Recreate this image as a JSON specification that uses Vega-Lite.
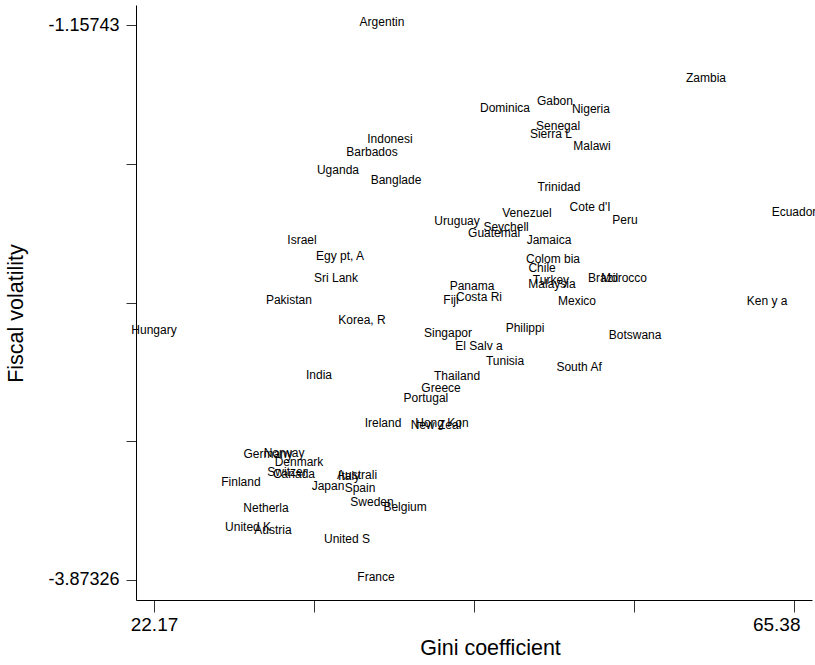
{
  "$schema": "https://vega.github.io/schema/vega-lite/v6.json",
  "width": 676,
  "height": 595,
  "autosize": {"type": "none"},
  "padding": {"left": 136, "top": 5, "right": 3, "bottom": 65},
  "background": "white",
  "config": {"view": {"stroke": null}},
  "data": {"values": [
    {"country": "Argentin", "gini": 37.56, "vol": -1.15743},
    {"country": "Zambia", "gini": 59.44, "vol": -1.431},
    {"country": "Dominica", "gini": 45.87, "vol": -1.578},
    {"country": "Gabon", "gini": 49.24, "vol": -1.544},
    {"country": "Nigeria", "gini": 51.67, "vol": -1.583},
    {"country": "Senegal", "gini": 49.45, "vol": -1.666},
    {"country": "Sierra L", "gini": 48.97, "vol": -1.706},
    {"country": "Malawi", "gini": 51.74, "vol": -1.764},
    {"country": "Indonesi", "gini": 38.10, "vol": -1.730},
    {"country": "Barbados", "gini": 36.89, "vol": -1.794},
    {"country": "Uganda", "gini": 34.59, "vol": -1.882},
    {"country": "Banglade", "gini": 38.51, "vol": -1.931},
    {"country": "Trinidad", "gini": 49.51, "vol": -1.965},
    {"country": "Cote d'I", "gini": 51.61, "vol": -2.063},
    {"country": "Peru", "gini": 53.97, "vol": -2.126},
    {"country": "Ecuador", "gini": 65.38, "vol": -2.087},
    {"country": "Venezuel", "gini": 47.35, "vol": -2.092},
    {"country": "Uruguay", "gini": 42.63, "vol": -2.131},
    {"country": "Seychell", "gini": 45.94, "vol": -2.161},
    {"country": "Guatemal", "gini": 45.13, "vol": -2.190},
    {"country": "Jamaica", "gini": 48.84, "vol": -2.224},
    {"country": "Israel", "gini": 32.16, "vol": -2.224},
    {"country": "Egy pt, A", "gini": 34.73, "vol": -2.302},
    {"country": "Colom bia", "gini": 49.11, "vol": -2.317},
    {"country": "Chile", "gini": 48.37, "vol": -2.361},
    {"country": "Sri Lank", "gini": 34.46, "vol": -2.410},
    {"country": "Turkey", "gini": 48.97, "vol": -2.420},
    {"country": "Malaysia", "gini": 49.04, "vol": -2.440},
    {"country": "Brazil", "gini": 52.49, "vol": -2.410},
    {"country": "Morocco", "gini": 53.90, "vol": -2.410},
    {"country": "Panama", "gini": 43.64, "vol": -2.449},
    {"country": "Costa Ri", "gini": 44.11, "vol": -2.503},
    {"country": "Fiji", "gini": 42.22, "vol": -2.518},
    {"country": "Mexico", "gini": 50.73, "vol": -2.523},
    {"country": "Ken y a", "gini": 63.56, "vol": -2.523},
    {"country": "Pakistan", "gini": 31.28, "vol": -2.518},
    {"country": "Korea, R", "gini": 36.21, "vol": -2.616},
    {"country": "Hungary", "gini": 22.17, "vol": -2.665},
    {"country": "Singapor", "gini": 42.02, "vol": -2.679},
    {"country": "Philippi", "gini": 47.22, "vol": -2.655},
    {"country": "Botswana", "gini": 54.65, "vol": -2.689},
    {"country": "El Salv a", "gini": 44.11, "vol": -2.743},
    {"country": "Tunisia", "gini": 45.87, "vol": -2.816},
    {"country": "South Af", "gini": 50.87, "vol": -2.846},
    {"country": "India", "gini": 33.31, "vol": -2.885},
    {"country": "Thailand", "gini": 42.63, "vol": -2.890},
    {"country": "Greece", "gini": 41.55, "vol": -2.948},
    {"country": "Portugal", "gini": 40.53, "vol": -2.997},
    {"country": "Ireland", "gini": 37.63, "vol": -3.120},
    {"country": "Hong Kon", "gini": 41.61, "vol": -3.120},
    {"country": "New Zeal", "gini": 41.21, "vol": -3.130},
    {"country": "Norway", "gini": 30.95, "vol": -3.266},
    {"country": "Germany", "gini": 29.87, "vol": -3.271},
    {"country": "Denmark", "gini": 31.96, "vol": -3.311},
    {"country": "Switzer", "gini": 31.15, "vol": -3.359},
    {"country": "Canada", "gini": 31.62, "vol": -3.369},
    {"country": "Finland", "gini": 28.04, "vol": -3.408},
    {"country": "Australi", "gini": 35.88, "vol": -3.374},
    {"country": "Italy", "gini": 35.34, "vol": -3.379},
    {"country": "Japan", "gini": 33.92, "vol": -3.428},
    {"country": "Spain", "gini": 36.08, "vol": -3.438},
    {"country": "Sweden", "gini": 36.89, "vol": -3.506},
    {"country": "Belgium", "gini": 39.12, "vol": -3.531},
    {"country": "Netherla", "gini": 29.73, "vol": -3.536},
    {"country": "United K", "gini": 28.52, "vol": -3.629},
    {"country": "Austria", "gini": 30.20, "vol": -3.643},
    {"country": "United S", "gini": 35.20, "vol": -3.687},
    {"country": "France", "gini": 37.16, "vol": -3.87326}
  ]},
  "mark": {"type": "text", "align": "center", "baseline": "middle", "dy": -3, "font": "Liberation Sans", "fontSize": 12, "color": "black"},
  "encoding": {
    "x": {
      "field": "gini", "type": "quantitative",
      "scale": {"domain": [20.9547, 66.595], "nice": false, "zero": false},
      "axis": {
        "title": "Gini coefficient",
        "values": [22.17, 32.9725, 43.775, 54.5775, 65.38],
        "labelExpr": "datum.value == 22.17 ? '22.17' : datum.value == 65.38 ? '65.38' : ''",
        "grid": false,
        "domainColor": "black", "domainWidth": 1,
        "tickColor": "#333", "tickSize": 12, "tickWidth": 1,
        "labelFont": "Liberation Sans", "labelFontSize": 19, "labelColor": "black",
        "labelAlign": {"condition": {"test": "datum.value == 65.38", "value": "right"}, "value": "center"},
        "labelOffset": {"condition": {"test": "datum.value == 65.38", "value": 6}, "value": 0},
        "labelPadding": 3, "labelFlush": false, "labelOverlap": false,
        "titleFont": "Liberation Sans", "titleFontSize": 21.5, "titleFontWeight": "normal", "titleColor": "black",
        "titleX": 354, "titleY": 48, "titleBaseline": "middle", "titleAlign": "center"
      }
    },
    "y": {
      "field": "vol", "type": "quantitative",
      "scale": {"domain": [-3.97113, -1.05956], "nice": false, "zero": false},
      "axis": {
        "title": "Fiscal volatility",
        "values": [-1.15743, -1.83639, -2.51535, -3.1943, -3.87326],
        "labelExpr": "datum.value == -1.15743 ? '-1.15743' : datum.value == -3.87326 ? '-3.87326' : ''",
        "grid": false,
        "domainColor": "black", "domainWidth": 1,
        "tickColor": "#333", "tickSize": 10, "tickWidth": 1,
        "labelFont": "Liberation Sans", "labelFontSize": 18, "labelColor": "black",
        "labelPadding": 7, "labelFlush": false, "labelOverlap": false,
        "titleFont": "Liberation Sans", "titleFontSize": 21.5, "titleFontWeight": "normal", "titleColor": "black",
        "titleX": -120, "titleY": 308, "titleAngle": 270, "titleBaseline": "middle", "titleAlign": "center"
      }
    },
    "text": {"field": "country"}
  }
}
